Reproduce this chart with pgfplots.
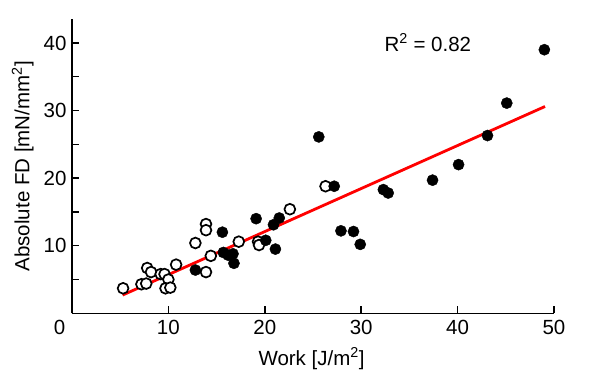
\documentclass[border=0pt]{standalone}
\usepackage{fontspec}
\setmainfont{Liberation Sans}
\usepackage{pgfplots}
\pgfplotsset{compat=1.18}
\pgfplotstableread{
x y
5.3 3.7
7.2 4.3
7.7 4.4
7.8 6.7
8.2 6.1
9.2 5.8
9.6 5.8
10.0 5.0
9.7 3.7
10.2 3.8
10.8 7.2
13.9 6.1
12.8 10.4
13.9 13.2
13.9 12.3
14.4 8.5
17.3 10.6
19.3 10.6
19.4 10.1
22.6 15.4
26.3 18.8
}\opendata
\pgfplotstableread{
x y
12.8 6.4
15.6 12.0
15.7 9.0
16.2 8.6
16.7 8.8
16.8 7.4
19.1 14.0
20.1 10.8
21.1 9.5
20.9 13.1
21.5 14.1
25.6 26.1
27.2 18.8
27.9 12.2
29.2 12.1
29.9 10.2
32.3 18.3
32.8 17.8
37.4 19.7
40.1 22.0
43.1 26.3
45.1 31.1
49.0 39.0
}\filleddata
\begin{document}
\begin{tikzpicture}[font=\fontsize{20.5bp}{24bp}\selectfont]
\path[use as bounding box] (-72bp,-57.7bp) rectangle (521bp,313.3bp);
\begin{axis}[
  at={(0,0)}, anchor=south west,
  scale only axis, width=482bp, height=294bp,
  xmin=0, xmax=50, ymin=0, ymax=43.5,
  axis lines=left,
  axis line style={-, line width=1.5bp, black},
  tick align=inside,
  major tick length=7bp,
  tick style={line width=1.5bp, black},
  xtick={10,20,30,40,50},
  ytick={5,10,...,40},
  yticklabels={,10,,20,,30,,40},
  /pgf/number format/assume math mode=true,
  tick label style={font=\fontsize{20.5bp}{24bp}\selectfont},
  xticklabel style={yshift=-3bp},
  yticklabel style={xshift=-2bp},
  label style={font=\fontsize{20.5bp}{24bp}\selectfont},
  xlabel={Work [J/m\textsuperscript{2}]},
  ylabel={Absolute FD [mN/mm\textsuperscript{2}]},
  xlabel style={at={(axis description cs:0.497,-0.176)}, anchor=base},
  ylabel style={at={(axis description cs:-0.0886,0.5)}, anchor=base},
  clip=false,
]
\addplot[only marks, mark=*, mark size=5.4bp, mark options={fill=white, draw=black, line width=1.7bp}] table[x=x,y=y] {\opendata};
\addplot[only marks, mark=*, mark size=5.6bp, mark options={fill=black, draw=black}] table[x=x,y=y] {\filleddata};
\addplot[red, line width=2.8bp] coordinates {(5.25,2.7) (49.07,30.6)};
\node[anchor=north, yshift=-3bp, xshift=-12.5bp] at (rel axis cs:0,0) {0};
\node[anchor=base west, inner sep=0] at (axis cs:32.4,38.75) {R\textsuperscript{2} = 0.82};
\end{axis}
\end{tikzpicture}
\end{document}
